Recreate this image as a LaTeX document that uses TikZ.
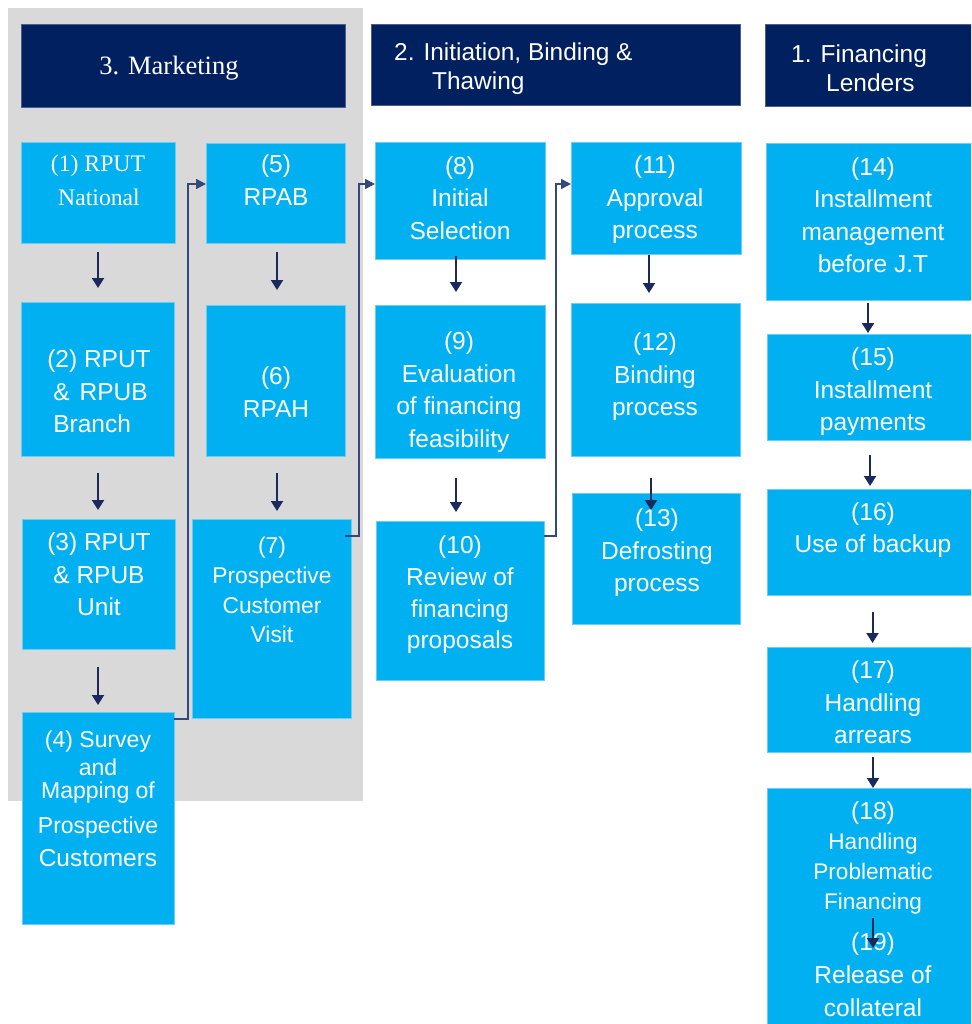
\documentclass[tikz,border=0pt]{standalone}
\usepackage{fontspec}
\setmainfont{Liberation Sans}
\newfontfamily\serifnr{Liberation Serif}
\usetikzlibrary{arrows.meta,calc}
\definecolor{navy}{HTML}{002060}
\definecolor{navyedge}{HTML}{4A5D8C}
\definecolor{cyanbox}{HTML}{00B0F0}
\definecolor{cyanedge}{HTML}{6ACDF4}
\definecolor{bggray}{HTML}{D9D9D9}
\definecolor{arrcol}{HTML}{1B2A5C}
\definecolor{elbcol}{HTML}{34497A}
\begin{document}
\begin{tikzpicture}[x=1pt,y=-1pt,
  box/.style={draw=cyanedge, line width=0.7pt, fill=cyanbox, anchor=north west, inner sep=0pt, outer sep=0pt},
  hdr/.style={draw=navyedge, line width=0.6pt, fill=navy, anchor=north west, inner sep=0pt, outer sep=0pt},
  lbl/.style={text=white, align=center, inner sep=0pt, font=\fontsize{24.5}{32.5}\selectfont},
  arr/.style={draw=arrcol, line width=2pt, -{Triangle[width=12pt,length=10pt]}},
  elb/.style={draw=elbcol, line width=1.5pt, -{Triangle[width=10pt,length=10pt]}}]
\useasboundingbox (0,0) rectangle (971,1024);
\clip (0,0) rectangle (971,1024);
\fill[white] (0,0) rectangle (971,1024);
% grey panel
\fill[bggray] (8,8) rectangle (363,801);
% headers
\node[hdr, minimum width=324pt, minimum height=83pt] (h3) at (21,24) {};
\node[hdr, minimum width=369pt, minimum height=81pt] (h2) at (371,24) {};
\node[hdr, minimum width=215pt, minimum height=82pt] (h1) at (765,24) {};
\node[text=white, inner sep=0pt, font=\serifnr\fontsize{26.5}{30}\selectfont] (h3t) at (169,68) {3. Marketing};
\node[text=white, anchor=west, align=left, inner sep=0pt, font=\fontsize{24.4}{29}\selectfont] (h2t) at (394,68.5) {2. Initiation, Binding \&\\\hspace*{38pt}Thawing};
\node[text=white, anchor=west, align=left, inner sep=0pt, font=\fontsize{24.5}{29}\selectfont] (h1t) at (791,68.5) {1. Financing\\\hspace*{35pt}Lenders};
% boxes
\node[box, minimum width=154pt, minimum height=101pt] (b1) at (21,142) {};
\node[box, minimum width=139pt, minimum height=100pt] (b5) at (206,143) {};
\node[box, minimum width=153pt, minimum height=154pt] (b2) at (21,302) {};
\node[box, minimum width=139pt, minimum height=151pt] (b6) at (206,305) {};
\node[box, minimum width=153pt, minimum height=130pt] (b3) at (22,519) {};
\node[box, minimum width=159pt, minimum height=199pt] (b7) at (192,519) {};
\node[box, minimum width=152pt, minimum height=212pt] (b4) at (22,712) {};
\node[box, minimum width=170pt, minimum height=117pt] (b8) at (375,142) {};
\node[box, minimum width=170pt, minimum height=153pt] (b9) at (375,305) {};
\node[box, minimum width=168pt, minimum height=159pt] (b10) at (376,521) {};
\node[box, minimum width=170pt, minimum height=112pt] (b11) at (571,142) {};
\node[box, minimum width=169pt, minimum height=153pt] (b12) at (571,303) {};
\node[box, minimum width=168pt, minimum height=131pt] (b13) at (572,493) {};
\node[box, minimum width=215pt, minimum height=157pt] (b14) at (766,143) {};
\node[box, minimum width=215pt, minimum height=106pt] (b15) at (767,334) {};
\node[box, minimum width=215pt, minimum height=106pt] (b16) at (767,489) {};
\node[box, minimum width=215pt, minimum height=105pt] (b17) at (767,647) {};
\node[box, minimum width=215pt, minimum height=250pt] (b18) at (767,788) {};
% labels
\node[lbl, font=\serifnr\fontsize{23.7}{34}\selectfont] (t1) at (98,180) {(1) RPUT\\\hspace*{2pt}National};
\node[lbl] (t5) at (276,180) {(5)\\RPAB};
\node[lbl, align=left] (t2) at (99,391.5) {(2) RPUT\\\hspace*{6pt}\&\hspace{10pt}RPUB\\\hspace*{6pt}Branch};
\node[lbl] (t6) at (276,392) {(6)\\RPAH};
\node[lbl] (t3) at (99,574.5) {(3) RPUT\\\& RPUB\\Unit};
\node[lbl, font=\fontsize{22.8}{29.7}\selectfont] (t7) at (272,590) {(7)\\Prospective\\Customer\\Visit};
\node[lbl, font=\fontsize{23}{28}\selectfont] (t4) at (98,799) {(4) Survey\\and\\[-5pt]Mapping of\\[7pt]Prospective\\[5pt]{\fontsize{24.5}{28}\selectfont Customers}};
\node[lbl] (t8) at (460,198) {(8)\\Initial\\Selection};
\node[lbl] (t9) at (459,392) {(9)\\Evaluation\\of financing\\feasibility};
\node[lbl, font=\fontsize{24.5}{31.7}\selectfont] (t10) at (460,595) {(10)\\Review of\\financing\\proposals};
\node[lbl] (t11) at (655,200) {(11)\\Approval\\process};
\node[lbl] (t12) at (655,377) {(12)\\Binding\\process};
\node[lbl] (t13) at (657,553) {(13)\\Defrosting\\process};
\node[lbl] (t14) at (873,215) {(14)\\Installment\\management\\before J.T};
\node[lbl] (t15) at (873,392) {(15)\\Installment\\payments};
\node[lbl] (t16) at (873,530) {(16)\\Use of backup};
\node[lbl] (t17) at (873,702.5) {(17)\\Handling\\arrears};
\node[lbl, font=\fontsize{22.6}{29.8}\selectfont] (t18) at (873,858) {{\fontsize{24.5}{29.8}\selectfont (18)}\\Handling\\Problematic\\Financing};
\node[lbl, font=\fontsize{24.5}{33}\selectfont] (t19) at (873,975) {(19)\\Release of\\collateral};
% vertical arrows
\draw[arr] ($(b1.south)+(0,9)$) -- ++(0,36);
\draw[arr] ($(b2.south)+(0.5,17)$) -- ++(0,37);
\draw[arr] ($(b3.south)+(-0.5,18)$) -- ++(0,38);
\draw[arr] ($(b5.south)+(1.5,9)$) -- ++(0,38);
\draw[arr] ($(b6.south)+(1.5,17)$) -- ++(0,38);
\draw[arr] ($(b8.south)+(-4,-3)$) -- ++(0,36);
\draw[arr] ($(b9.south)+(-4,20)$) -- ++(0,34);
\draw[arr] ($(b11.south)+(-7,1)$) -- ++(0,38);
\draw[arr] ($(b12.south)+(-4.5,22)$) -- ++(0,32);
\draw[arr] ($(b14.south)+(-5.5,3)$) -- ++(0,30);
\draw[arr] ($(b15.south)+(-4.5,15)$) -- ++(0,31);
\draw[arr] ($(b16.south)+(-2,17)$) -- ++(0,31);
\draw[arr] ($(b17.south)+(-1.5,5)$) -- ++(0,31);
\draw[arr] ($(b18.north)+(-1.5,130)$) -- ++(0,30);
% elbow connectors
\coordinate (c1a) at ($(b4.north east)+(0,7)$);
\coordinate (c1b) at ($(b5.north west)+(-18,41)$);
\draw[elb] (c1a) -| (c1b) -- ($(b5.north west)+(0,41)$);
\coordinate (c2a) at ($(b7.north east)+(-6,17)$);
\coordinate (c2b) at ($(b8.north west)+(-16,42)$);
\draw[elb] (c2a) -| (c2b) -- ($(b8.north west)+(0,42)$);
\coordinate (c3a) at ($(b10.north east)+(0,15)$);
\coordinate (c3b) at ($(b11.north west)+(-15,42)$);
\draw[elb] (c3a) -| (c3b) -- ($(b11.north west)+(0,42)$);
\end{tikzpicture}
\end{document}
